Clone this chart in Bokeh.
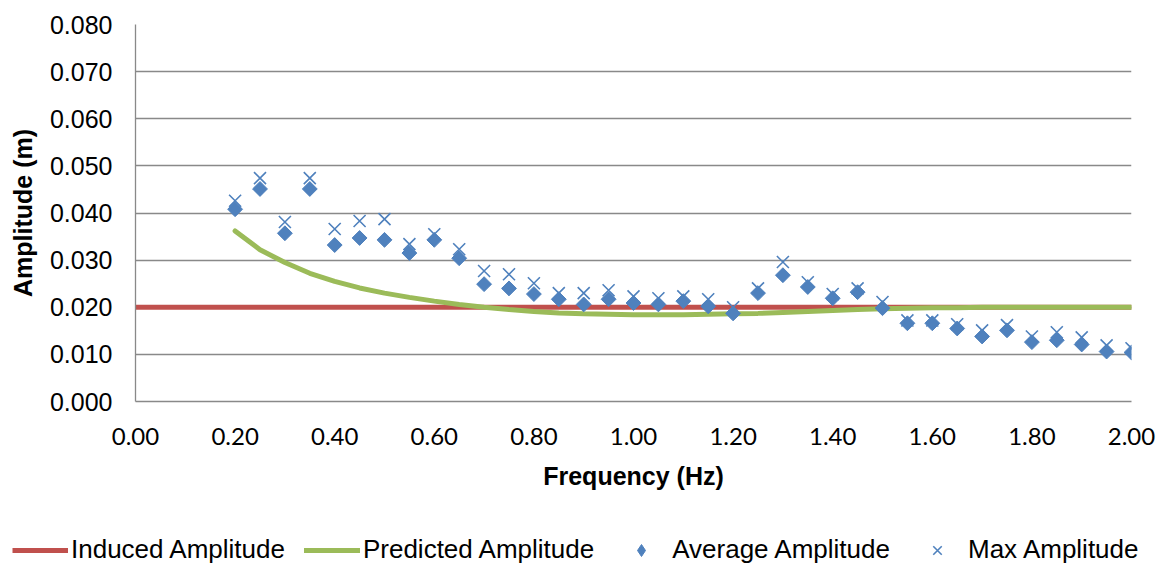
import numpy as np

from bokeh.plotting import figure
from bokeh.models import Legend, LegendItem, NumeralTickFormatter, FixedTicker, Range1d
from bokeh.embed import file_html
from bokeh.resources import INLINE

# frequencies of the measured points (Hz)
freq = [0.20, 0.25, 0.30, 0.35, 0.40, 0.45, 0.50, 0.55, 0.60, 0.65,
        0.70, 0.75, 0.80, 0.85, 0.90, 0.95, 1.00, 1.05, 1.10, 1.15,
        1.20, 1.25, 1.30, 1.35, 1.40, 1.45, 1.50, 1.55, 1.60, 1.65,
        1.70, 1.75, 1.80, 1.85, 1.90, 1.95, 2.00]

avg_amp = [0.0408, 0.0451, 0.0357, 0.0451, 0.0332, 0.0347, 0.0343, 0.0315, 0.0343, 0.0304,
           0.0249, 0.0240, 0.0228, 0.0217, 0.0206, 0.0217, 0.0209, 0.0206, 0.0213, 0.0202,
           0.0187, 0.0230, 0.0268, 0.0243, 0.0219, 0.0232, 0.0198, 0.0166, 0.0166, 0.0155,
           0.0138, 0.0151, 0.0126, 0.0130, 0.0121, 0.0106, 0.0104]

max_amp = [0.0426, 0.0474, 0.0381, 0.0474, 0.0366, 0.0383, 0.0387, 0.0334, 0.0355, 0.0323,
           0.0277, 0.0270, 0.0251, 0.0230, 0.0230, 0.0236, 0.0223, 0.0219, 0.0223, 0.0217,
           0.0200, 0.0240, 0.0296, 0.0253, 0.0228, 0.0240, 0.0211, 0.0172, 0.0172, 0.0164,
           0.0151, 0.0162, 0.0138, 0.0147, 0.0136, 0.0119, 0.0113]

pred_amp = [0.0362, 0.0322, 0.0295, 0.0272, 0.0255, 0.0241, 0.0230, 0.0221, 0.0213, 0.0206,
            0.0200, 0.0195, 0.0191, 0.0188, 0.0186, 0.0185, 0.0184, 0.0184, 0.0184, 0.0185,
            0.0186, 0.0187, 0.0189, 0.0191, 0.0193, 0.0195, 0.0197, 0.0198, 0.0199, 0.0199,
            0.0200, 0.0200, 0.0200, 0.0200, 0.0200, 0.0200, 0.0200]

induced_freq = [0.0, 2.0]
induced_amp = [0.020, 0.020]

x_ticks = [0.0, 0.2, 0.4, 0.6, 0.8, 1.0, 1.2, 1.4, 1.6, 1.8, 2.0]
y_ticks = [0.0, 0.01, 0.02, 0.03, 0.04, 0.05, 0.06, 0.07, 0.08]

RED = "#c0504d"
GREEN = "#9bbb59"
BLUE = "#4f81bd"
GRID = "#898989"


def add_series(fig, avg_marker="square", avg_angle=np.pi / 4, avg_size=10.5):
    r1 = fig.line(induced_freq, induced_amp, line_color=RED, line_width=5)
    r2 = fig.line(freq, pred_amp, line_color=GREEN, line_width=5, line_cap="round")
    r3 = fig.scatter(freq, avg_amp, marker=avg_marker, size=avg_size, angle=avg_angle,
                     fill_color=BLUE, line_color=BLUE, line_width=1)
    r4 = fig.scatter(freq, max_amp, marker="x", size=17, line_color=BLUE, line_width=1.6)
    return r1, r2, r3, r4


p = figure(width=1163, height=510, output_backend="svg", toolbar_location=None,
           x_range=Range1d(0, 2.0), y_range=Range1d(0, 0.08),
           min_border_left=135, min_border_right=32, min_border_top=24,
           min_border_bottom=109, outline_line_color=None)

p.xgrid.grid_line_color = None
p.xgrid.ticker = FixedTicker(ticks=x_ticks)
p.ygrid.ticker = FixedTicker(ticks=y_ticks)
p.ygrid.grid_line_color = GRID
p.ygrid.grid_line_width = 1.3

add_series(p)

xa = p.xaxis[0]
xa.ticker = FixedTicker(ticks=x_ticks)
xa.formatter = NumeralTickFormatter(format="0.00")
xa.axis_label = "Frequency (Hz)"
xa.axis_label_text_font = "Liberation Sans"
xa.axis_label_text_font_style = "bold"
xa.axis_label_text_font_size = "25px"
xa.axis_label_standoff = 14
xa.major_label_text_font = "Lato"
xa.major_label_text_font_size = "24px"
xa.major_label_standoff = 26

ya = p.yaxis[0]
ya.ticker = FixedTicker(ticks=y_ticks)
ya.formatter = NumeralTickFormatter(format="0.000")
ya.axis_label = "Amplitude (m)"
ya.axis_label_text_font = "Liberation Sans"
ya.axis_label_text_font_style = "bold"
ya.axis_label_text_font_size = "25px"
ya.axis_label_standoff = 10
ya.major_label_text_font = "Liberation Sans"
ya.major_label_text_font_size = "25px"
ya.major_label_standoff = 23

for ax in (xa, ya):
    ax.axis_line_color = GRID
    ax.axis_line_width = 1.3
    ax.major_tick_line_color = None
    ax.minor_tick_line_color = None
    ax.major_tick_out = 0
    ax.major_tick_in = 0
    ax.major_label_text_color = "black"
    ax.axis_label_text_color = "black"

# legend strip below the chart: same series, kept out of view
lg = figure(width=1163, height=55, output_backend="svg", toolbar_location=None,
            x_range=Range1d(0, 2.0), y_range=Range1d(1, 2),
            x_axis_type=None, y_axis_type=None, min_border=0,
            outline_line_color=None)
lg.grid.grid_line_color = None
l1, l2, l3, l4 = add_series(lg, avg_marker="diamond", avg_angle=0, avg_size=16)

legend = Legend(items=[
    LegendItem(label="Induced Amplitude", renderers=[l1]),
    LegendItem(label="Predicted Amplitude", renderers=[l2]),
    LegendItem(label="Average Amplitude", renderers=[l3]),
    LegendItem(label="Max Amplitude", renderers=[l4]),
], orientation="horizontal", location=(12, 0),
    glyph_width=56, glyph_height=30, label_standoff=3, spacing=19,
    padding=0, margin=0, border_line_color=None, background_fill_alpha=0,
    label_text_font="Liberation Sans", label_text_font_size="26px",
    label_text_color="black")
lg.add_layout(legend)

open("out.html", "w").write(file_html([p, lg], INLINE))
